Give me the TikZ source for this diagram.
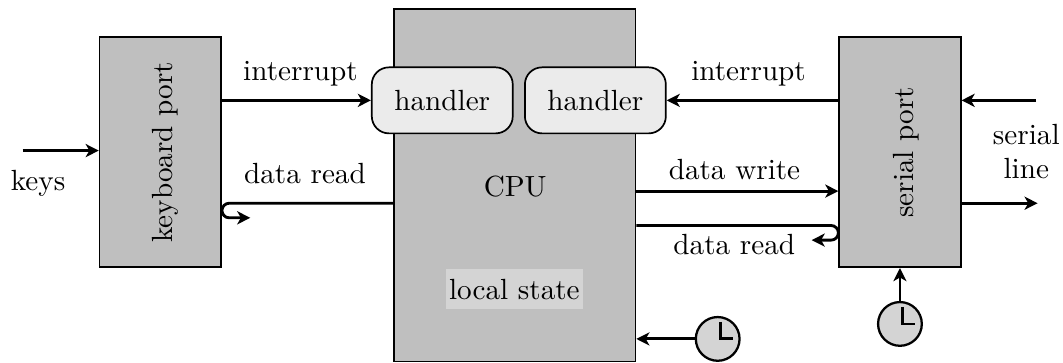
\documentclass[tikz,border=0pt]{standalone}
\usepackage{tikz}
\usetikzlibrary{positioning,arrows.meta}

\begin{document}
\begin{tikzpicture}[
		>={Stealth[length=4.6pt,width=4.6pt,inset=1.3pt]},
		every node/.style = {font=\fontsize{10.25}{11.8}\selectfont},
		box/.style = {draw, fill=black!25, line width=0.6pt},
		handler/.style = {draw, fill=black!8, rounded corners=6pt, line width=0.6pt, minimum width=1.74cm, minimum height=0.815cm},
		clock/.style = {draw, circle, fill=black!17, line width=0.8pt, minimum size=0.54cm,
			path picture={\draw[line width=1pt] ([shift={(0.03,0.21)}]path picture bounding box.center) -- ([shift={(0.03,0)}]path picture bounding box.center) -- ([shift={(0.19,0)}]path picture bounding box.center);}},
		wire/.style = {->, line width=1pt}
	]
	\useasboundingbox (0,0) rectangle (13.123,4.469);
	\node[box, minimum width=2.98cm, minimum height=4.35cm] (cpu) at (6.355,2.18) {};
	\node[box, minimum width=1.5cm, minimum height=2.84cm] (kbd) at (1.98,2.59) {};
	\node[box, minimum width=1.5cm, minimum height=2.84cm] (ser) at (11.11,2.59) {};
	\node[rotate=90] (kbdlabel) at (2.04,2.59) {keyboard port};
	\node[rotate=90] (serlabel) at (11.19,2.59) {serial port};
	\node (cpulabel) at (6.36,2.17) {CPU};
	\node[handler] (h1) at (5.46,3.23) {handler};
	\node[handler] (h2) at (7.35,3.23) {handler};
	\node[fill=black!17, inner xsep=1pt, minimum width=1.66cm, minimum height=0.48cm] (state) at (6.35,0.9) {local state};
	\node[clock] (clk1) at (8.86,0.285) {};
	\node[clock] (clk2) at (11.11,0.47) {};
	\coordinate (keysin) at (0.28,2.61);
	\coordinate (serin) at (12.79,3.23);
	\coordinate (serout) at (12.81,1.96);
	\node (keys) at (0.47,2.2) {keys};
	\node[align=center] (line) at (12.67,2.6) {serial\\line};
	\draw[wire] (keysin) -- (kbd.west |- keysin);
	\draw[wire] (kbd.east |- h1) to node[above, xshift=1.4pt, yshift=1pt] {interrupt} (h1);
	\draw[wire] (ser.west |- h2) to node[above, xshift=-1.4pt, yshift=1pt] {interrupt} (h2);
	\draw[wire] (serin) -- (ser.east |- serin);
	\draw[wire] (ser.east |- serout) -- (serout);
	\draw[wire] (cpu.east |- 0,2.11) to node[above, xshift=-1pt] {data write} (ser.west |- 0,2.11);
	\draw[wire] (cpu.west |- 0,1.96) -- (2.83,1.96) node[pos=0.5, above, xshift=-2.2pt, yshift=3pt] {data read} arc (90:270:0.09) -- ++(0.26,0);
	\draw[wire] (cpu.east |- 0,1.685) -- (10.26,1.685) node[pos=0.5, below, xshift=0.2pt, yshift=0.8pt] {data read} arc (90:-90:0.09) -- ++(-0.24,0);
	\draw[wire] (clk1) -- (cpu.east |- clk1);
	\draw[wire] (clk2) -- (ser.south -| clk2);
\end{tikzpicture}
\end{document}
